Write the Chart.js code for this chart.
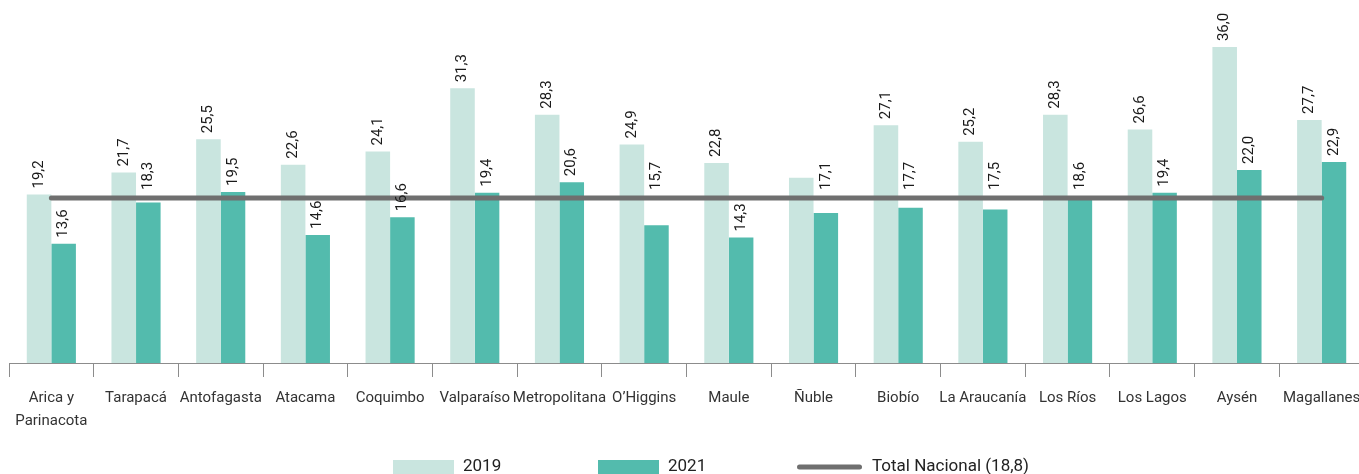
<!DOCTYPE html>
<html>
<head>
<meta charset="utf-8">
<script src="https://cdn.jsdelivr.net/npm/chart.js@4.4.1/dist/chart.umd.min.js"></script>
<style>
  html, body { margin: 0; padding: 0; background: #fff; overflow: hidden; }
  #wrap { position: absolute; left: 0; top: 0; width: 1364px; height: 474px; }
</style>
</head>
<body>
<div id="wrap"><canvas id="chartRegiones"></canvas></div>
<script>
// Datos por región
const regions = [
    ['Arica y', 'Parinacota'], 'Tarapacá', 'Antofagasta', 'Atacama', 'Coquimbo', 'Valparaíso',
    'Metropolitana', 'O\u2019Higgins', 'Maule', 'Ñuble', 'Biobío', 'La Araucanía',
    'Los Ríos', 'Los Lagos', 'Aysén', 'Magallanes'
];
const values2019 = [19.2, 21.7, 25.5, 22.6, 24.1, 31.3, 28.3, 24.9, 22.8, 21.1, 27.1, 25.2, 28.3, 26.6, 36.0, 27.7];
const values2021 = [13.6, 18.3, 19.5, 14.6, 16.6, 19.4, 20.6, 15.7, 14.3, 17.1, 17.7, 17.5, 18.6, 19.4, 22.0, 22.9];
// la barra 2019 de Ñuble no lleva etiqueta en el original
const unlabeled2019 = ['Ñuble'];
// etiquetas 2021 que el original sube por encima de la línea nacional
const aboveLine2021 = ['Tarapacá', 'O\u2019Higgins', 'Ñuble', 'Biobío', 'La Araucanía', 'Los Ríos'];
const totalNacional = 18.8;
const totalLabel = 'Total Nacional (18,8)';

const FONT = "Roboto, 'Noto Sans', sans-serif";
const COLOR_2019 = '#c9e5df';
const COLOR_2021 = '#53bbad';
const COLOR_TOTAL = '#6f6f6f';

const fmt = v => v.toFixed(1).replace('.', ',');
const regionName = j => Array.isArray(regions[j]) ? regions[j].join(' ') : regions[j];

// Etiquetas verticales sobre las barras
const barLabels = {
    id: 'barLabels',
    afterDatasetsDraw(chart) {
        const ctx = chart.ctx;
        const lineY = chart.scales.y.getPixelForValue(totalNacional);
        ctx.save();
        ctx.font = '15px ' + FONT;
        ctx.fillStyle = '#1a1a1a';
        ctx.textAlign = 'left';
        ctx.textBaseline = 'middle';
        chart.data.datasets.forEach((ds, i) => {
            if (ds.type !== 'bar') return;
            const meta = chart.getDatasetMeta(i);
            meta.data.forEach((bar, j) => {
                const name = regionName(j);
                if (ds.label === '2019' && unlabeled2019.includes(name)) return;
                let base = bar.y - 6;
                if (ds.label === '2021' && aboveLine2021.includes(name)) base = lineY - 8;
                ctx.save();
                ctx.translate(bar.x, base);
                ctx.rotate(-Math.PI / 2);
                ctx.fillText(fmt(ds.data[j]), 0, 0);
                ctx.restore();
            });
        });
        ctx.restore();
    }
};

// Leyenda inferior
const bottomLegend = {
    id: 'bottomLegend',
    afterDraw(chart) {
        const ctx = chart.ctx;
        ctx.save();
        ctx.font = '17px ' + FONT;
        ctx.textBaseline = 'middle';
        const y = 467;
        const items = [
            { text: '2019', color: COLOR_2019, kind: 'box', x: 393 },
            { text: '2021', color: COLOR_2021, kind: 'box', x: 598 },
            { text: totalLabel, color: COLOR_TOTAL, kind: 'line', x: 797 }
        ];
        items.forEach(item => {
            let x = item.x;
            if (item.kind === 'box') {
                ctx.fillStyle = item.color;
                ctx.fillRect(x, 460, 61, 16);
                x += 61 + 9;
            } else {
                ctx.strokeStyle = item.color;
                ctx.lineWidth = 5;
                ctx.lineCap = 'round';
                ctx.beginPath();
                ctx.moveTo(x + 2.5, y);
                ctx.lineTo(x + 62.5, y);
                ctx.stroke();
                x += 65 + 10;
            }
            ctx.fillStyle = '#222';
            ctx.fillText(item.text, x, y);
        });
        ctx.restore();
    }
};

new Chart(document.getElementById('chartRegiones'), {
    data: {
        labels: regions,
        datasets: [
            {
                type: 'line',
                label: totalLabel,
                data: regions.map(() => totalNacional),
                borderColor: COLOR_TOTAL,
                borderWidth: 5,
                borderCapStyle: 'round',
                pointRadius: 0,
                fill: false,
                order: 0
            },
            {
                type: 'bar',
                label: '2019',
                data: values2019,
                backgroundColor: COLOR_2019,
                barPercentage: 1.0,
                categoryPercentage: 0.58,
                order: 1
            },
            {
                type: 'bar',
                label: '2021',
                data: values2021,
                backgroundColor: COLOR_2021,
                barPercentage: 1.0,
                categoryPercentage: 0.58,
                order: 1
            }
        ]
    },
    options: {
        responsive: true,
        maintainAspectRatio: false,
        animation: false,
        layout: { padding: { top: 12, left: 9, right: 0, bottom: 0 } },
        plugins: {
            legend: { display: false },
            tooltip: { enabled: false }
        },
        scales: {
            x: {
                offset: true,
                grid: {
                    offset: true,
                    drawOnChartArea: false,
                    drawTicks: true,
                    tickLength: 14,
                    color: '#8c8c8c'
                },
                border: { display: true, color: '#8c8c8c' },
                ticks: {
                    autoSkip: false,
                    maxRotation: 0,
                    padding: 10,
                    color: '#333',
                    font: { family: FONT, size: 15, lineHeight: 1.5 }
                },
                afterFit(scale) {
                    // altura fija del eje y sin reservar espacio para la última etiqueta
                    scale.height = 111;
                    scale.paddingLeft = 0;
                    scale.paddingRight = 0;
                }
            },
            y: {
                display: false,
                min: 0,
                max: 40
            }
        }
    },
    plugins: [barLabels, bottomLegend]
});
</script>
</body>
</html>
